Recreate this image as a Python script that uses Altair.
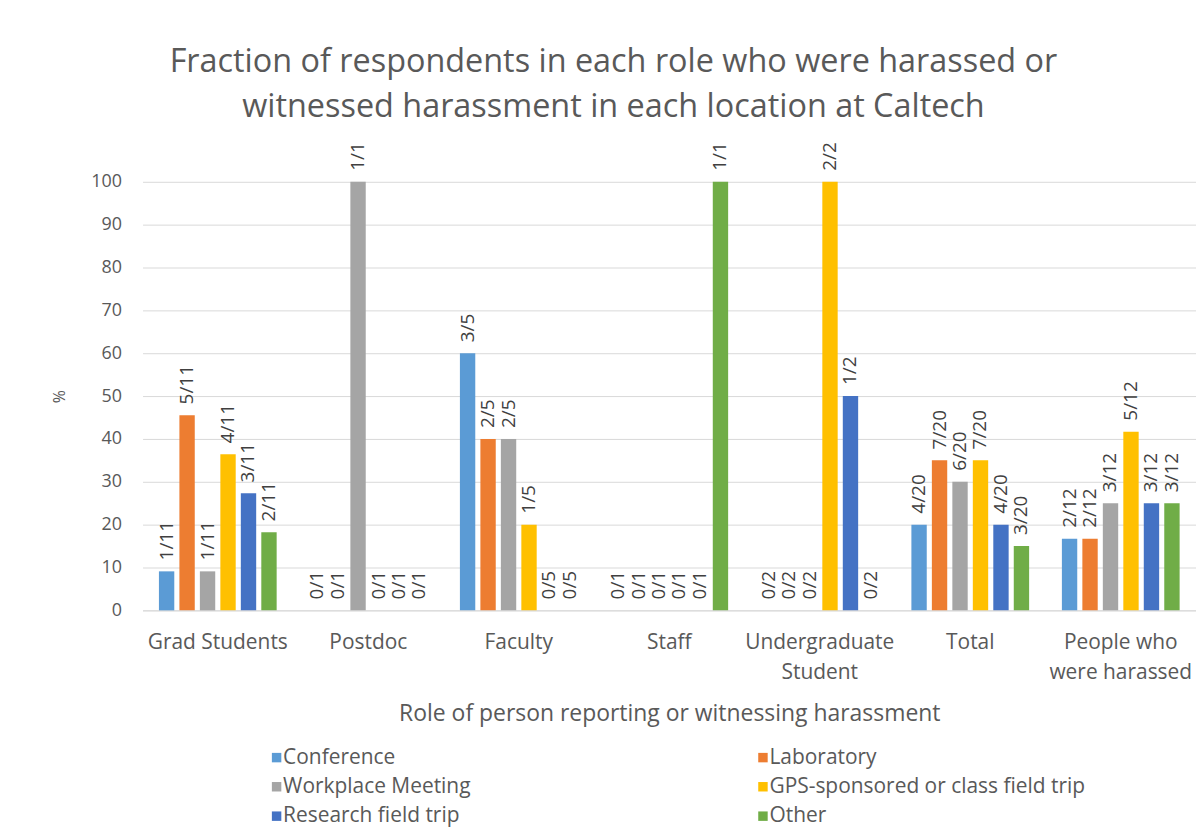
import altair as alt
import pandas as pd

roles = ["Grad Students", "Postdoc", "Faculty", "Staff",
         "Undergraduate Student", "Total", "People who were harassed"]
locations = ["Conference", "Laboratory", "Workplace Meeting",
             "GPS-sponsored or class field trip", "Research field trip", "Other"]
colors = ["#5B9BD5", "#ED7D31", "#A5A5A5", "#FFC000", "#4472C4", "#70AD47"]

# percent of respondents (one value per role, in the order of `roles`)
conference = [9.1, 0, 60, 0, 0, 20, 16.7]
laboratory = [45.5, 0, 40, 0, 0, 35, 16.7]
workplace = [9.1, 100, 40, 0, 0, 30, 25]
gps_trip = [36.4, 0, 20, 0, 100, 35, 41.7]
research_trip = [27.3, 0, 0, 0, 50, 20, 25]
other = [18.2, 0, 0, 100, 0, 15, 25]

# fraction labels shown above bars
conference_lbl = ["1/11", "0/1", "3/5", "0/1", "0/2", "4/20", "2/12"]
laboratory_lbl = ["5/11", "0/1", "2/5", "0/1", "0/2", "7/20", "2/12"]
workplace_lbl = ["1/11", "1/1", "2/5", "0/1", "0/2", "6/20", "3/12"]
gps_trip_lbl = ["4/11", "0/1", "1/5", "0/1", "2/2", "7/20", "5/12"]
research_trip_lbl = ["3/11", "0/1", "0/5", "0/1", "1/2", "4/20", "3/12"]
other_lbl = ["2/11", "0/1", "0/5", "1/1", "0/2", "3/20", "3/12"]

series = [conference, laboratory, workplace, gps_trip, research_trip, other]
series_lbl = [conference_lbl, laboratory_lbl, workplace_lbl, gps_trip_lbl,
              research_trip_lbl, other_lbl]

rows = []
for loc, vals, lbls in zip(locations, series, series_lbl):
    for role, v, l in zip(roles, vals, lbls):
        rows.append({"role": role, "location": loc, "pct": v, "label": l})
df = pd.DataFrame(rows)

FONT = "Open Sans"
GREY = "#595959"

label_expr = ("datum.label == 'Undergraduate Student' ? ['Undergraduate', 'Student'] : "
              "datum.label == 'People who were harassed' ? ['People who', 'were harassed'] : datum.label")

base = alt.Chart(df).encode(
    x=alt.X("role:N", sort=roles,
            scale=alt.Scale(paddingInner=0, paddingOuter=0),
            title="Role of person reporting or witnessing harassment",
            axis=alt.Axis(labelAngle=0, ticks=False, labelPadding=21,
                          labelExpr=label_expr, labelLineHeight=30,
                          labelFontSize=21, labelFont=FONT, labelColor=GREY,
                          titleFontSize=23, titleFont=FONT, titleColor=GREY,
                          titleFontWeight="normal", titlePadding=21,
                          domainColor="#D9D9D9", labelLimit=200)),
    xOffset=alt.XOffset("location:N", sort=locations,
                        scale=alt.Scale(paddingInner=0.25, paddingOuter=0.8)),
    y=alt.Y("pct:Q", scale=alt.Scale(domain=[0, 100]), title="%",
            axis=alt.Axis(values=list(range(0, 101, 10)), ticks=False,
                          domain=False, labelPadding=21, gridColor="#D9D9D9",
                          labelFontSize=18, labelFont=FONT, labelColor=GREY,
                          titleFontSize=16, titleFont=FONT, titleColor=GREY,
                          titleFontWeight="normal", titlePadding=23)),
)

bars = base.mark_bar().encode(
    color=alt.Color("location:N", sort=locations,
                    scale=alt.Scale(domain=locations, range=colors),
                    legend=alt.Legend(title=None, orient="none", legendX=124,
                                      legendY=567, columns=2, columnPadding=282,
                                      direction="horizontal",
                                      rowPadding=7.5, symbolType="square",
                                      symbolSize=90, symbolStrokeWidth=0,
                                      labelFontSize=21, labelFont=FONT,
                                      labelColor=GREY,
                                      labelOffset={"expr": "-4"},
                                      labelLimit=400))
)

labels = base.mark_text(angle=270, align="left", baseline="middle", dx=11,
                        fontSize=19, font=FONT, color="#404040").encode(
    text="label:N"
)

chart = alt.layer(bars, labels).properties(
    width=1057, height=430,
    title=alt.TitleParams(
        ["Fraction of respondents in each role who were harassed or",
         "witnessed harassment in each location at Caltech"],
        fontSize=32.5, font=FONT, color=GREY, fontWeight="normal",
        anchor="middle", dx=-56, lineHeight=45, offset=19),
    padding={"left": 44, "top": 36, "right": 0, "bottom": 0},
).configure_view(stroke=None)

chart.save("out.html", embed_options={"renderer": "svg", "actions": False})
